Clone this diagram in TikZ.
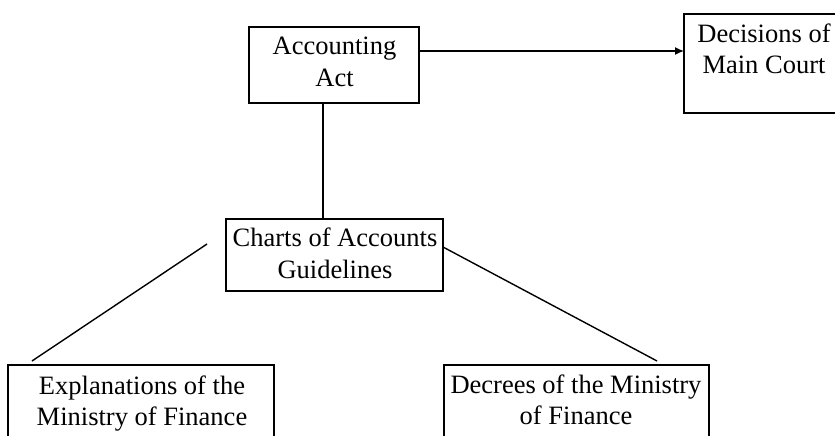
\documentclass[tikz,border=0pt]{standalone}
\usepackage{fontspec}
\setmainfont{Liberation Serif}
\usetikzlibrary{arrows.meta}
\begin{document}
\begin{tikzpicture}[x=1bp,y=-1bp,
  box/.style={draw,line width=1.5bp,rectangle,inner sep=0pt,outer sep=0pt},
  lbl/.style={align=center,inner sep=0pt,font=\fontsize{26.5bp}{31.5bp}\selectfont},
  conn/.style={line width=1.4bp},
  arr/.style={line width=1.4bp,-{Latex[length=9bp,width=8bp]}}]
\clip (0,0) rectangle (835,436);
\fill[white] (0,0) rectangle (835,436);
% boxes
\node[box,minimum width=170bp,minimum height=76bp] (acc) at (334,65) {};
\node[box,minimum width=160bp,minimum height=99bp] (dec) at (764,63.5) {};
\node[box,minimum width=217bp,minimum height=72bp] (charts) at (334.5,255) {};
\node[box,minimum width=266bp,minimum height=95bp] (expl) at (141,412.5) {};
\node[box,minimum width=265bp,minimum height=95bp] (decr) at (576.5,412.5) {};
% texts
\node[lbl] (tacc) at (334.5,62) {Accounting\\Act};
\node[lbl] (tdec) at (764,49) {Decisions of\\Main Court};
\node[lbl] (tcharts) at (335,253.5) {Charts of Accounts\\Guidelines};
\node[lbl] (texpl) at (142,403.5) {Explanations of the\\Ministry of Finance};
\node[lbl] (tdecr) at (576,400) {Decrees of the Ministry\\of Finance};
% connectors
\draw[arr] ([yshift=14bp]acc.east) -- ([yshift=14bp]acc.east -| dec.west);
\draw[conn] ([xshift=-11bp]acc.south) -- ([xshift=-11bp]acc.south |- charts.north);
\coordinate (l1) at ([shift={(-19bp,11bp)}]charts.west);
\coordinate (l2) at ([shift={(24bp,4bp)}]expl.north west);
\draw[conn] (l1) -- (l2);
\coordinate (r1) at ([yshift=8bp]charts.east);
\coordinate (r2) at ([shift={(-52bp,4bp)}]decr.north east);
\draw[conn] (r1) -- (r2);
\end{tikzpicture}
\end{document}
